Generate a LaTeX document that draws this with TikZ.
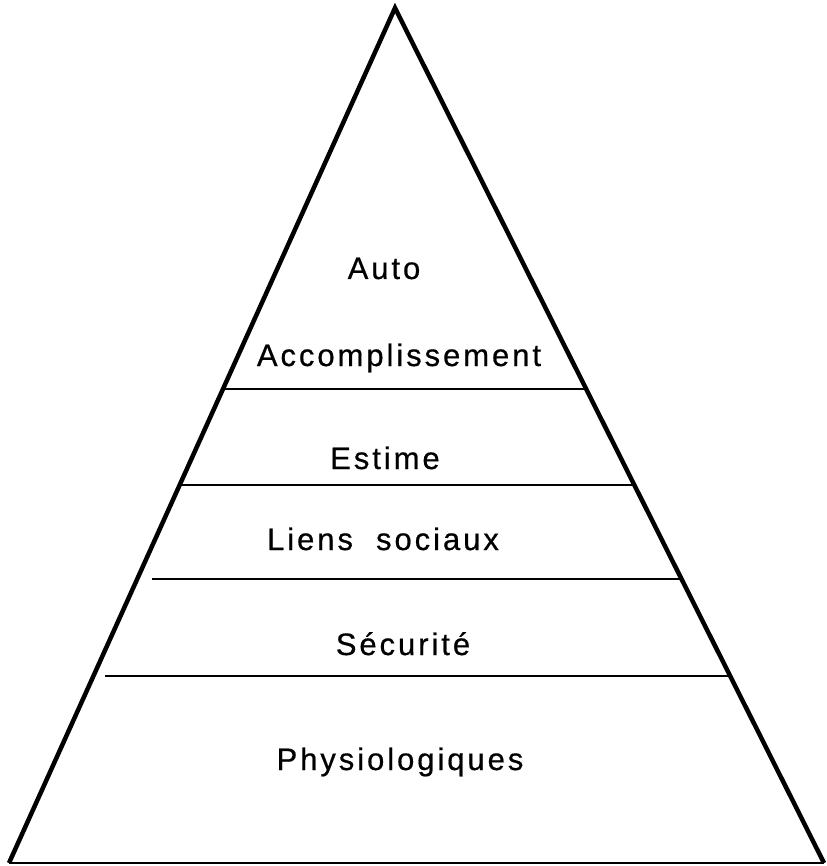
\documentclass[tikz,border=0pt]{standalone}
\usepackage{fontspec}
\setmainfont{Liberation Sans}[LetterSpace=9.5,FakeBold=0.6]
\begin{document}
\begin{tikzpicture}[x=1pt,y=-1pt,
  edge/.style={line width=4.5pt,line join=miter,line cap=butt},
  tier/.style={line width=2.9pt},
  lbl/.style={anchor=base,inner sep=0pt,font=\fontsize{31}{36}\selectfont}]
\useasboundingbox (0,0) rectangle (826,866);
% triangle
\coordinate (apex) at (395,8);
\coordinate (bl) at (9,863);
\coordinate (br) at (824,863);
\draw[edge] (bl) -- (apex) -- (br);
\draw[line width=2.9pt] (bl) -- (br);
% tier lines
\draw[tier] (225,389) -- (588,389);
\draw[tier] (180,485) -- (634,485);
\draw[tier] (152,579) -- (682,579);
\draw[tier] (105,676) -- (729,676);
% labels
\node[lbl] (auto) at (384,279) {Auto};
\node[lbl] (acc) at (399,366) {Accomplissement};
\node[lbl] (est) at (385,469) {Estime};
\node[lbl] (liens) at (383,550) {Liens\ \ sociaux};
\node[lbl] (secu) at (403,655) {Sécurité};
\node[lbl] (phys) at (400,770) {Physiologiques};
\end{tikzpicture}
\end{document}
